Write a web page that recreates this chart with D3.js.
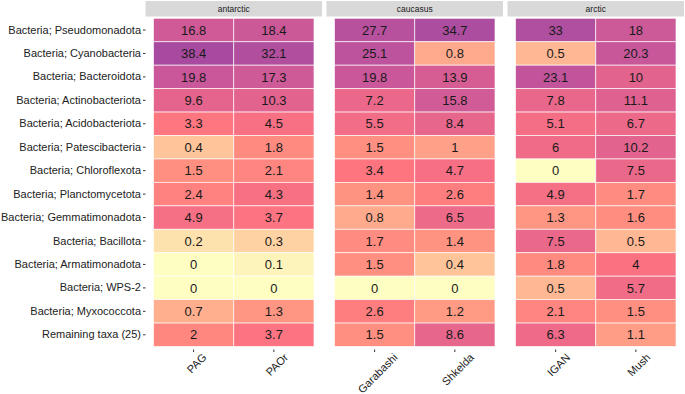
<!DOCTYPE html>
<html>
<head>
<meta charset="utf-8">
<script src="https://cdn.jsdelivr.net/npm/d3@7"></script>
<style>
  body { margin: 0; background: #fff; }
  svg { font-family: "Liberation Sans", Arial, sans-serif; display: block; }
</style>
</head>
<body>
<div id="chart"></div>
<script>
const regions = ['antarctic', 'caucasus', 'arctic'];
const sites = ['PAG', 'PAOr', 'Garabashi', 'Shkelda', 'IGAN', 'Mush'];
const siteRegion = ['antarctic', 'antarctic', 'caucasus', 'caucasus', 'arctic', 'arctic'];
const taxa = [
  'Bacteria; Pseudomonadota', 'Bacteria; Cyanobacteria', 'Bacteria; Bacteroidota',
  'Bacteria; Actinobacteriota', 'Bacteria; Acidobacteriota', 'Bacteria; Patescibacteria',
  'Bacteria; Chloroflexota', 'Bacteria; Planctomycetota', 'Bacteria; Gemmatimonadota',
  'Bacteria; Bacillota', 'Bacteria; Armatimonadota', 'Bacteria; WPS-2',
  'Bacteria; Myxococcota', 'Remaining taxa (25)'
];
const valPAG = [16.8, 38.4, 19.8, 9.6, 3.3, 0.4, 1.5, 2.4, 4.9, 0.2, 0, 0, 0.7, 2];
const valPAOr = [18.4, 32.1, 17.3, 10.3, 4.5, 1.8, 2.1, 4.3, 3.7, 0.3, 0.1, 0, 1.3, 3.7];
const valGarabashi = [27.7, 25.1, 19.8, 7.2, 5.5, 1.5, 3.4, 1.4, 0.8, 1.7, 1.5, 0, 2.6, 1.5];
const valShkelda = [34.7, 0.8, 13.9, 15.8, 8.4, 1, 4.7, 2.6, 6.5, 1.4, 0.4, 0, 1.2, 8.6];
const valIGAN = [33, 0.5, 23.1, 7.8, 5.1, 6, 0, 4.9, 1.3, 7.5, 1.8, 0.5, 2.1, 6.3];
const valMush = [18, 20.3, 10, 11.1, 6.7, 10.2, 7.5, 1.7, 1.6, 0.5, 4, 5.7, 1.5, 1.1];
const siteValues = [valPAG, valPAOr, valGarabashi, valShkelda, valIGAN, valMush];

const cells = [];
sites.forEach((s, i) => {
  taxa.forEach((t, j) => {
    cells.push({ site: s, region: siteRegion[i], taxon: t, value: siteValues[i][j] });
  });
});

const W = 685, H = 394;
const svg = d3.select('#chart').append('svg')
  .attr('width', W)
  .attr('height', H);

const panelX = d3.scaleBand()
  .domain(regions)
  .range([145.5, 684])
  .paddingInner(0.025);

const y = d3.scaleBand()
  .domain(taxa)
  .range([18.3, 346.5]);

const maxV = d3.max(cells, d => d.value);
const ramp = d3.scaleLinear()
  .domain([0, 0.03, 0.06, 0.11, 0.25, 0.4, 0.53, 0.64, 0.83, 1])
  .range(['#fefec3', '#fdf3bb', '#fdd9a7', '#ffb893', '#ff8f80', '#fe7580',
          '#f06b88', '#e4648d', '#c8579a', '#a84ba0'])
  .interpolate(d3.interpolateLab);
const color = d3.scaleSequentialSymlog(ramp).domain([0, maxV]).constant(1);

// strips
const strips = svg.append('g');
strips.selectAll('rect')
  .data(regions)
  .enter()
  .append('rect')
  .attr('x', d => panelX(d))
  .attr('y', 1)
  .attr('width', panelX.bandwidth())
  .attr('height', 15.5)
  .attr('fill', '#d9d9d9');
strips.selectAll('text')
  .data(regions)
  .enter()
  .append('text')
  .attr('x', d => panelX(d) + panelX.bandwidth() / 2)
  .attr('y', 9)
  .attr('dy', '0.35em')
  .attr('text-anchor', 'middle')
  .attr('fill', '#1a1a1a')
  .style('font-size', '8.5px')
  .text(d => d);

// y axis
const yAxis = svg.append('g')
  .attr('transform', 'translate(145.5,0)')
  .call(d3.axisLeft(y).tickSize(2.5).tickPadding(2));
yAxis.select('.domain').remove();
yAxis.selectAll('.tick line').attr('stroke', '#333');
yAxis.selectAll('.tick text')
  .attr('fill', '#222')
  .style('font-size', '11px')
  .style('font-family', '"Liberation Sans", Arial, sans-serif');

// panels
regions.forEach(r => {
  const x0 = panelX(r);
  const x = d3.scaleBand()
    .domain(sites.filter((s, i) => siteRegion[i] === r))
    .range([x0 + 8, x0 + panelX.bandwidth() - 8]);

  const g = svg.append('g');
  const data = cells.filter(d => d.region === r);

  g.selectAll('rect')
    .data(data)
    .enter()
    .append('rect')
    .attr('x', d => x(d.site))
    .attr('y', d => y(d.taxon))
    .attr('width', x.bandwidth())
    .attr('height', y.bandwidth())
    .attr('fill', d => color(d.value))
    .attr('stroke', '#fff')
    .attr('stroke-width', 0.8)
    .attr('stroke-opacity', 0.8);

  g.selectAll('text')
    .data(data)
    .enter()
    .append('text')
    .attr('x', d => x(d.site) + x.bandwidth() / 2)
    .attr('y', d => y(d.taxon) + y.bandwidth() / 2)
    .attr('dy', '0.36em')
    .attr('text-anchor', 'middle')
    .attr('fill', '#1a1a1a')
    .style('font-size', '13px')
    .text(d => d.value);

  const xAxis = svg.append('g')
    .attr('transform', 'translate(0,349.5)')
    .call(d3.axisBottom(x).tickSize(2.5).tickPadding(3));
  xAxis.select('.domain').remove();
  xAxis.selectAll('.tick line').attr('stroke', '#333');
  // rotated labels: box centred under the tick, top aligned
  xAxis.selectAll('.tick text')
    .attr('fill', '#222')
    .style('font-size', '11px')
    .style('font-family', '"Liberation Sans", Arial, sans-serif')
    .attr('text-anchor', 'middle')
    .attr('y', 0)
    .attr('dy', '0.35em')
    .attr('transform', function () {
      const len = this.getComputedTextLength();
      const cy = 3 + 0.354 * (len + 8);
      return 'translate(3,' + cy + ') rotate(-45)';
    });
});
</script>
</body>
</html>
